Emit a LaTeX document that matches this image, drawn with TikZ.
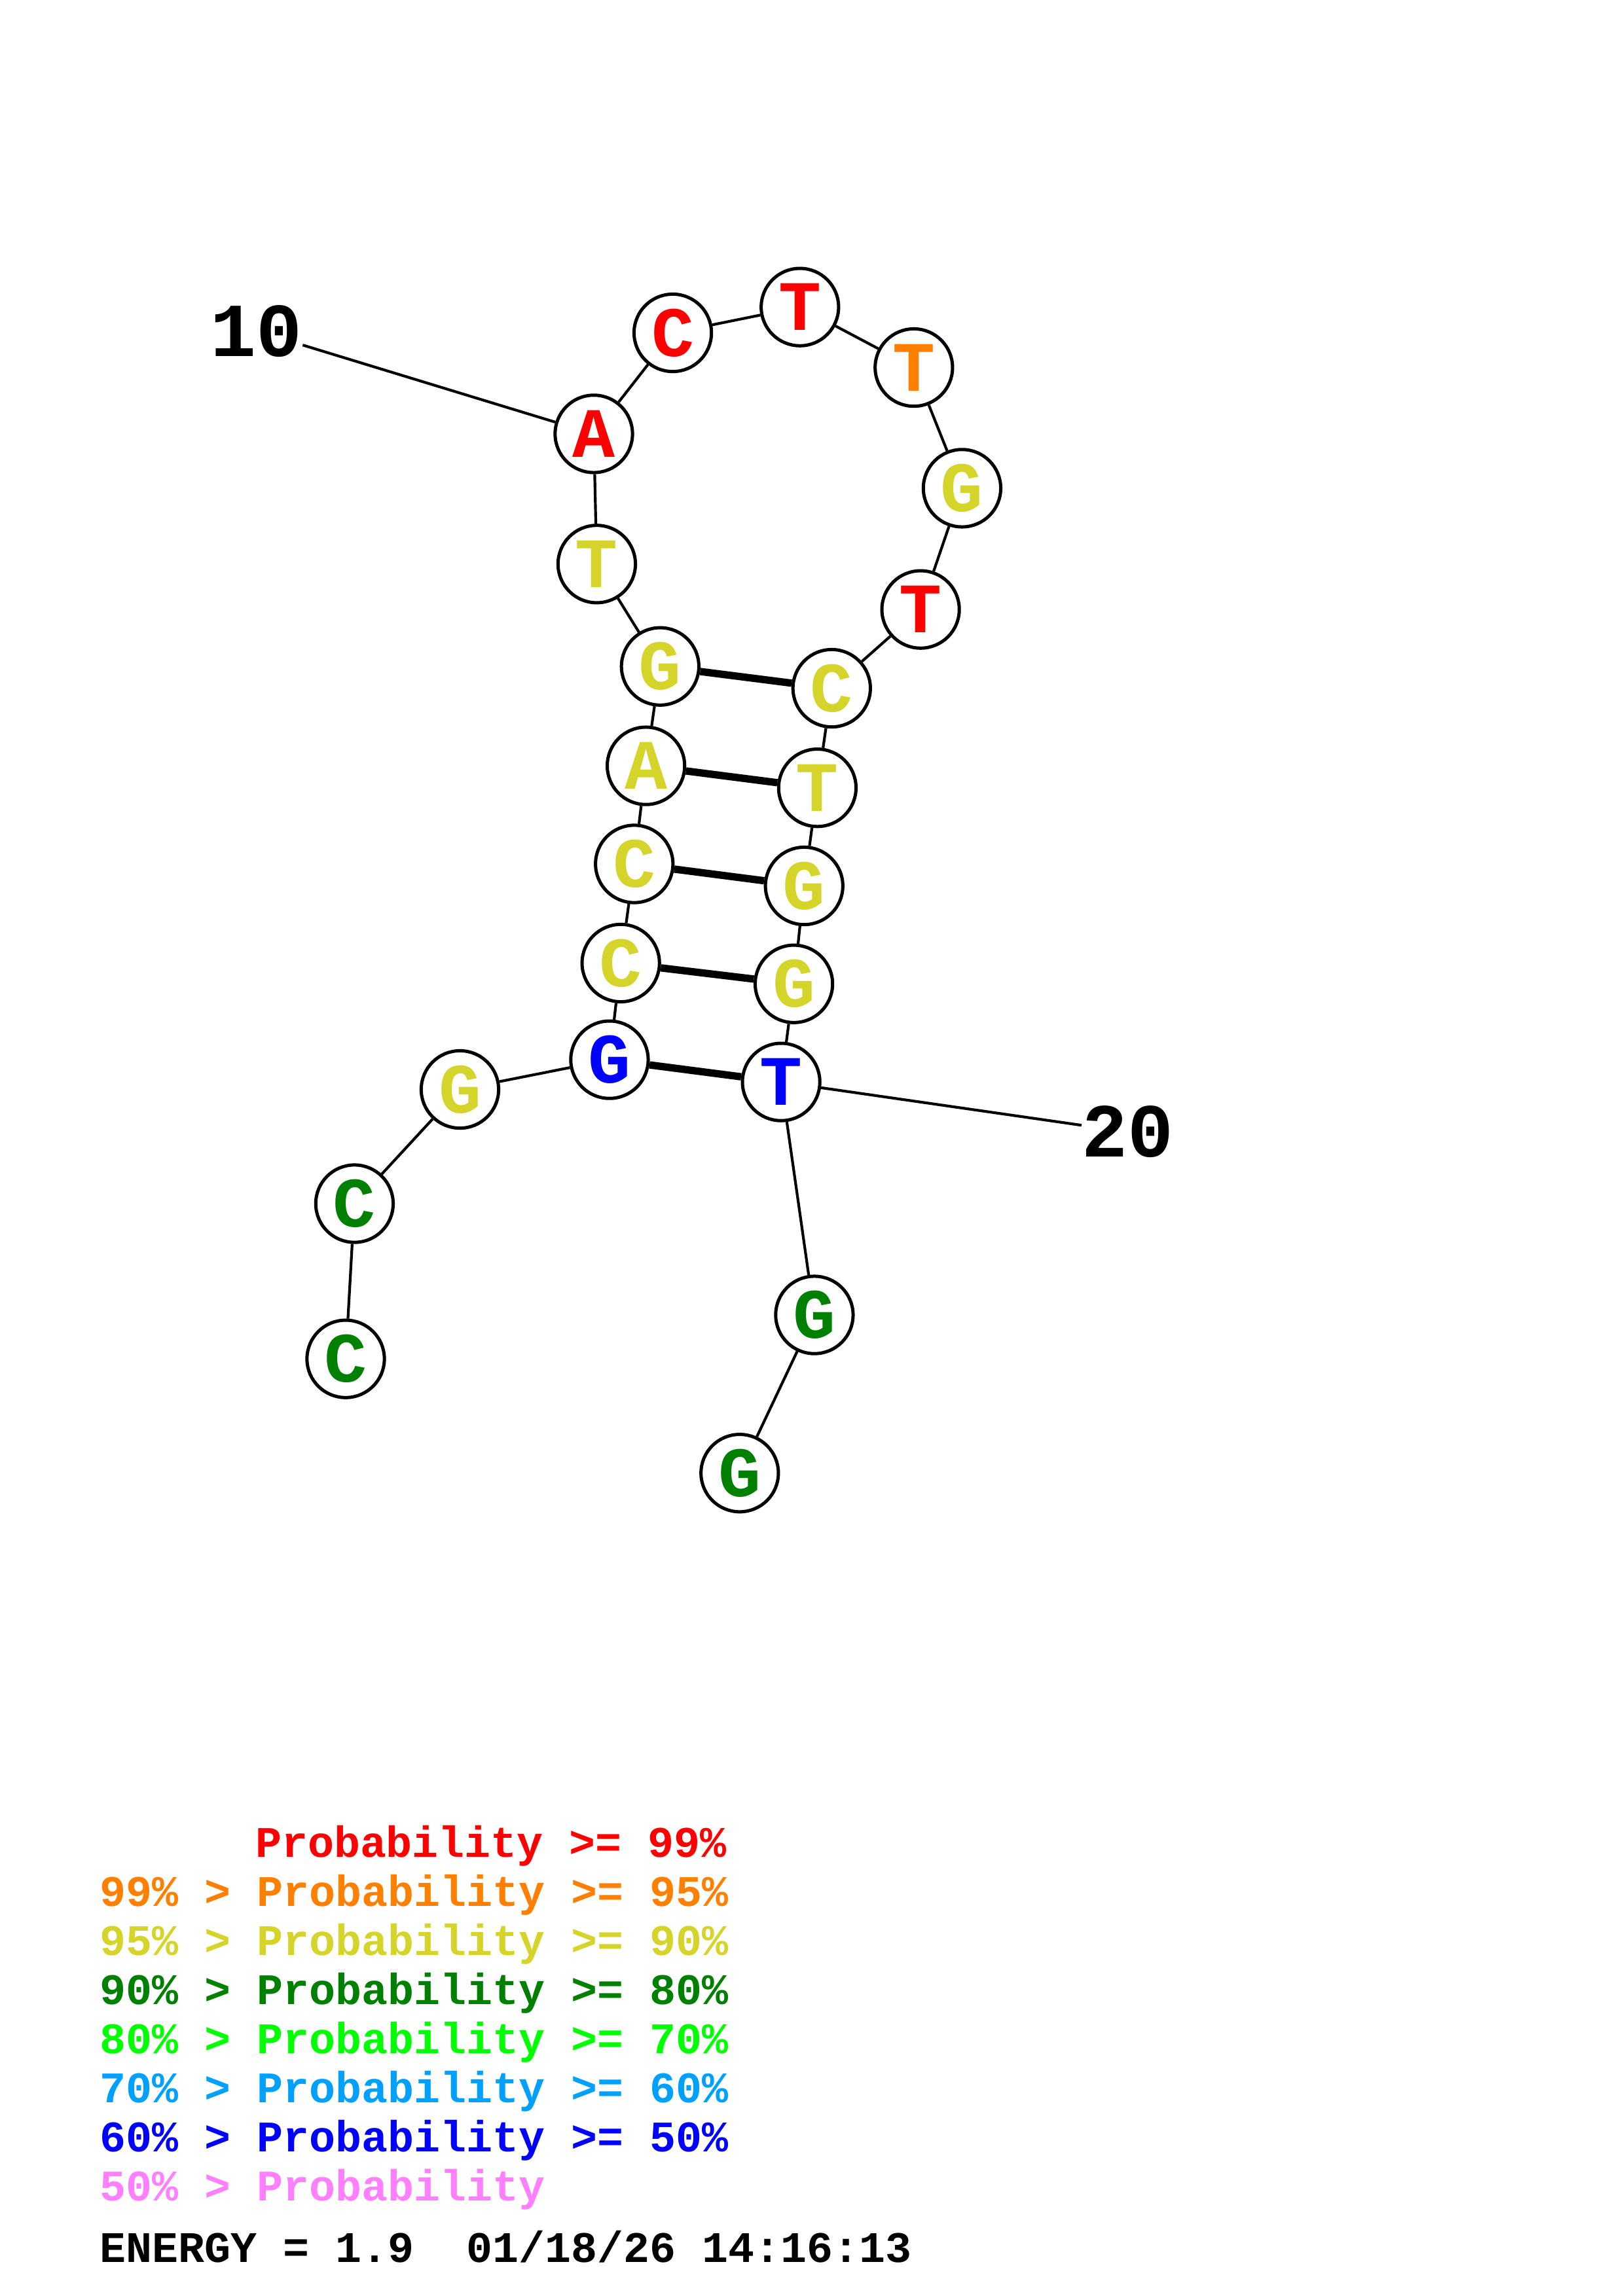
\documentclass[tikz,border=0pt]{standalone}
\usepackage{fontspec}
\newfontfamily\mono{Liberation Mono}
\definecolor{pRed}{RGB}{255,0,0}
\definecolor{pOrange}{RGB}{255,128,0}
\definecolor{pYellow}{RGB}{212,212,42}
\definecolor{pDGreen}{RGB}{0,128,0}
\definecolor{pGreen}{RGB}{0,255,0}
\definecolor{pSky}{RGB}{0,160,255}
\definecolor{pBlue}{RGB}{0,0,255}
\definecolor{pPink}{RGB}{255,128,255}
\tikzset{
  base/.style={circle,draw=black,fill=white,line width=1.2pt,minimum size=28.4pt,inner sep=0pt,
    font=\mono\bfseries\fontsize{26}{26}\selectfont},
  bR/.style={base,text=pRed},
  bO/.style={base,text=pOrange},
  bY/.style={base,text=pYellow},
  bG/.style={base,text=pDGreen},
  bB/.style={base,text=pBlue},
  bb/.style={line width=1.0pt},
  pair/.style={line width=2.7pt},
  numlab/.style={inner sep=0pt,font=\mono\bfseries\fontsize{28}{28}\selectfont},
  leg/.style={anchor=base west,inner sep=0pt,font=\mono\bfseries\fontsize{16}{16}\selectfont}
}
\begin{document}
\begin{tikzpicture}[x=0.5373pt,y=-0.5373pt]
\useasboundingbox (0,0) rectangle (1108,1568);
\node[bG] (n1) at (236,928) {C};
\node[bG] (n2) at (242,822) {C};
\node[bY] (n3) at (314,744) {G};
\node[bB] (n4) at (416.1,723.7) {G};
\node[bY] (n5) at (423.8,657.7) {C};
\node[bY] (n6) at (433,590) {C};
\node[bY] (n7) at (441,523) {A};
\node[bY] (n8) at (450.7,455.1) {G};
\node[bY] (n9) at (407.4,385.2) {T};
\node[bR] (n10) at (405.4,296.3) {A};
\node[bR] (n11) at (459.3,227.3) {C};
\node[bR] (n12) at (546.1,209.7) {T};
\node[bO] (n13) at (623.9,251) {T};
\node[bY] (n14) at (656.8,333.4) {G};
\node[bR] (n15) at (628.5,416.2) {T};
\node[bY] (n16) at (567.8,470) {C};
\node[bY] (n17) at (558,538) {T};
\node[bY] (n18) at (549,605) {G};
\node[bY] (n19) at (542,671.9) {G};
\node[bB] (n20) at (533.3,738.9) {T};
\node[bG] (n21) at (556,898) {G};
\node[bG] (n22) at (505,1006) {G};
\node[numlab] (l10) at (175,226) {10};
\node[numlab] (l20) at (770,773) {20};
\foreach \a/\b in {n1/n2,n2/n3,n3/n4,n4/n5,n5/n6,n6/n7,n7/n8,n8/n9,n9/n10,n10/n11,n11/n12,n12/n13,n13/n14,n14/n15,n15/n16,n16/n17,n17/n18,n18/n19,n19/n20,n20/n21,n21/n22,l10/n10,l20/n20}
  \draw[bb] (\a) -- (\b);
\foreach \a/\b in {n4/n20,n5/n19,n6/n18,n7/n17,n8/n16}
  \draw[pair] (\a) -- (\b);
\node[leg,text=pRed] (r1) at (174,1268.5) {Probability >= 99\%};
\node[leg,text=pOrange] (r2) at (68,1302) {99\% > Probability >= 95\%};
\node[leg,text=pYellow] (r3) at (68,1335.5) {95\% > Probability >= 90\%};
\node[leg,text=pDGreen] (r4) at (68,1369) {90\% > Probability >= 80\%};
\node[leg,text=pGreen] (r5) at (68,1402.5) {80\% > Probability >= 70\%};
\node[leg,text=pSky] (r6) at (68,1436) {70\% > Probability >= 60\%};
\node[leg,text=pBlue] (r7) at (68,1469.5) {60\% > Probability >= 50\%};
\node[leg,text=pPink] (r8) at (68,1503) {50\% > Probability};
\node[leg,text=black] (en) at (68,1545) {ENERGY = 1.9\ \ 01/18/26 14:16:13};
\end{tikzpicture}
\end{document}
